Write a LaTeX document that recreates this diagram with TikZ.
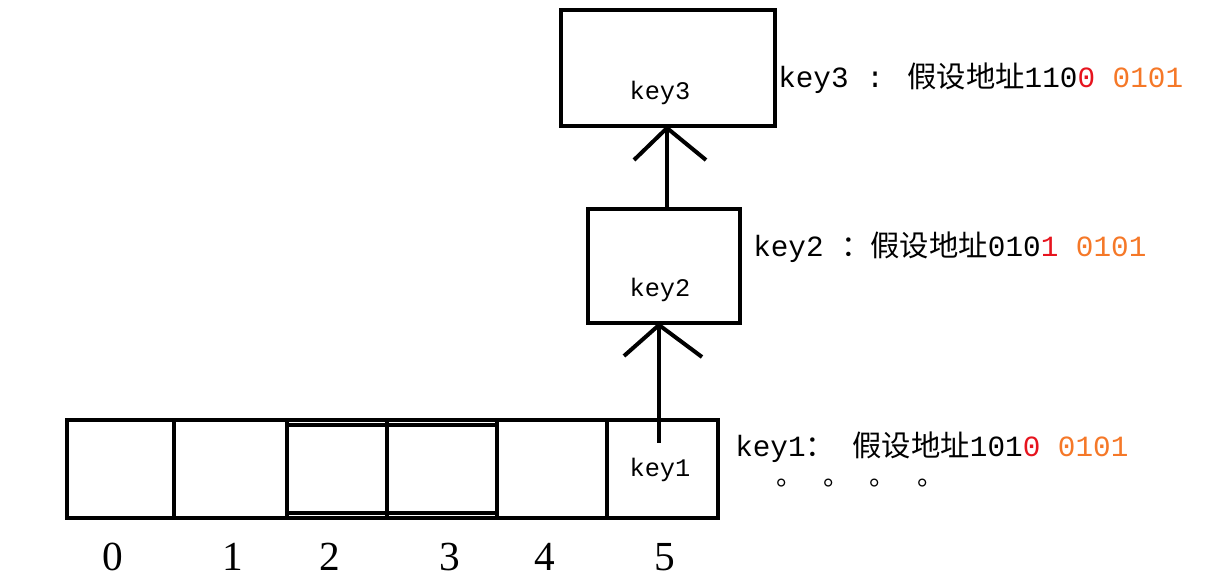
\documentclass[tikz,border=0pt]{standalone}
\usepackage{fontspec}
\setmainfont{Liberation Serif}
\newfontfamily\cjk{Noto Sans CJK SC}
\newfontfamily\mono{Liberation Mono}
\definecolor{myred}{RGB}{230,20,30}
\definecolor{myorange}{RGB}{245,120,40}
\begin{document}
\begin{tikzpicture}[x=0.75pt,y=-0.75pt,
  thick/.style={line width=3pt},
  box/.style={draw,line width=3pt,inner sep=0pt},
  lbl/.style={anchor=west,inner sep=0pt,font=\mono\fontsize{22}{24}\selectfont},
  num/.style={font=\fontsize{31}{34}\selectfont},
  intext/.style={font=\mono\fontsize{19}{22}\selectfont}]
\useasboundingbox (0,0) rectangle (1208,580);
% array
\draw[thick] (67,420) rectangle (718,518);
\foreach \x in {174,287,387,497,607} \draw[thick] (\x,420) -- (\x,518);
\draw[thick] (287,425) -- (497,425);
\draw[thick] (287,513) -- (497,513);
\node[intext] (k1) at (660,470) {key1};
\foreach \n/\x in {0/113,1/233,2/330,3/450,4/545,5/665} \node[num] (n\n) at (\x,557) {\n};
% key2
\node[box,minimum width=152*0.75pt,minimum height=114*0.75pt] (b2) at (664,266) {};
\node[intext] (k2) at (660,290) {key2};
% key3
\node[box,minimum width=214*0.75pt,minimum height=116*0.75pt] (b3) at (668,68) {};
\node[intext] (k3) at (660,93) {key3};
% arrows
\coordinate (a1s) at (659,443);
\coordinate (a1e) at (659,325);
\draw[thick] (a1s) -- (a1e);
\draw[thick] (624,356) -- (a1e) -- (702,357);
\coordinate (a2s) at (667,210);
\coordinate (a2e) at (667,128);
\draw[thick] (a2s) -- (a2e);
\draw[thick] (634,160) -- (a2e) -- (706,160);
% labels
\node[lbl] (l3) at (778,78) {key3 : {\cjk 假设地址}110\textcolor{myred}{0} \textcolor{myorange}{0101}};
\node[lbl] (l2) at (753,247) {key2 {\cjk ：假设地址}010\textcolor{myred}{1} \textcolor{myorange}{0101}};
\node[lbl] (l1) at (735,447) {key1{\cjk ：} {\cjk 假设地址}101\textcolor{myred}{0} \textcolor{myorange}{0101}};
\foreach \x in {785,832,878,926} \node[font=\cjk\fontsize{20}{22}\selectfont] at (\x+5,483) {。};
\end{tikzpicture}
\end{document}
